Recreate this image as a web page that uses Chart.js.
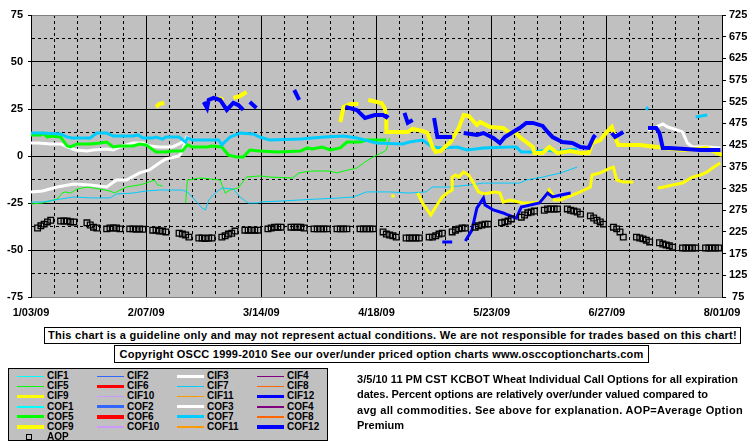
<!DOCTYPE html>
<html>
<head>
<meta charset="utf-8">
<title>KCBOT Wheat Individual Call Options</title>
<script src="https://cdn.jsdelivr.net/npm/chart.js@4.4.1/dist/chart.umd.min.js"></script>
<style>
  body { margin: 0; background: #fff; }
  #wrap { position: relative; width: 755px; height: 446px; overflow: hidden;
          font-family: "Liberation Sans", Arial, sans-serif; font-weight: bold; color: #000; }
  #chart { position: absolute; left: 0; top: 0; }
  .box { position: absolute; box-sizing: border-box; background: #fff; border: 1px solid #000;
         font-size: 11px; text-align: center; white-space: nowrap; }
  #disc1 { left: 44px; top: 327px; width: 697px; height: 17px; line-height: 15px; }
  #disc2 { left: 114px; top: 345px; width: 535px; height: 18px; line-height: 16px; }
  #legend { position: absolute; box-sizing: border-box; left: 8px; top: 368px; width: 320px; height: 73px;
            background: #c0c0c0; border: 1px solid #000; }
  .item { position: absolute; height: 10px; width: 80px; font-size: 10px; line-height: 10px; white-space: nowrap; }
  .item .ln { position: absolute; left: 0; width: 27px; }
  .item .sq { position: absolute; left: 9px; top: 2px; width: 4px; height: 4px; border: 1px solid #000; }
  .item .tx { position: absolute; left: 30px; top: 0; }
  #info { position: absolute; left: 357px; top: 372px; font-size: 11px; line-height: 15.3px; white-space: nowrap; }
  .fit { display: inline-block; }
</style>
</head>
<body>
<div id="wrap">
  <canvas id="chart" width="755" height="446"></canvas>
  <div class="box" id="disc1"><span class="fit" data-w="689">This chart is a guideline only and may not represent actual conditions. We are not responsible for trades based on this chart!</span></div>
  <div class="box" id="disc2"><span class="fit" data-w="524">Copyright OSCC 1999-2010 See our over/under priced option charts www.osccoptioncharts.com</span></div>
  <div id="legend"></div>
  <div id="info">
    <span class="fit" data-w="381">3/5/10 11 PM CST KCBOT Wheat Individual Call Options for all expiration</span><br>
    <span class="fit" data-w="351">dates. Percent options are relatively over/under valued compared to</span><br>
    <span class="fit" data-w="386">avg all commodities. See above for explanation. AOP=Average Option</span><br>
    <span>Premium</span>
  </div>
</div>
<script>
// x = days after 1/03/09, y = percent over/under (AOP: premium, right axis)
const dateLabels = ['1/03/09', '2/07/09', '3/14/09', '4/18/09', '5/23/09', '6/27/09', '8/01/09'];

const cof7 = [[0,12.2],[3,12.2],[9,11.7],[11,10.1],[12.5,9.6],[18,9.6],[20,12.2],[23,12.2],[25,10.6],[31,10.6],
  [32.5,11.2],[34,9.6],[37,9.6],[38,10.1],[40,9.0],[41,10.1],[45,10.1],[47,7.4],[47.5,9.6],[49,8.5],[57,8.5],
  [58,5.9],[60.5,10.1],[63.5,12.2],[67.5,11.7],[69.5,10.1],[72.5,8.5],[82,9.0],[89,10.1],[95,10.6],[99,9.6],
  [105,6.9],[113,6.4],[115,7.4],[119,8.5],[122,4.8],[125,4.3],[129.5,4.8],[132.5,3.2],[137.5,4.3],[145.5,4.8],
  [147.5,4.8],[149,2.1],[152.5,2.1],[157,3.2],[160,2.1],[163,3.2],[166,3.7],[166.5,null],
  [187,24.5],[187.5,26.1],[188,null],[202,20.7],[205.5,21.8]];

const cif7 = [[0,-24.5],[3.5,-24.5],[9,-22.9],[13,-21.8],[18,-22.3],[24,-22.3],[26,-20.2],[31,-19.7],[35,-18.6],
  [39,-18.1],[46,-18.1],[47.5,-19.1],[49,-21.8],[52,-27.7],[53,-28.7],[54,-23.4],[56,-19.7],[58,-17.0],[61.5,-17.6],
  [63.5,-21.8],[66,-25.0],[69,-25.0],[69.5,-24.5],[76.5,-23.9],[87,-22.9],[94,-22.3],[98,-21.8],[102,-19.1],
  [109,-19.1],[115,-19.7],[120,-19.1],[122,-16.5],[127,-16.5],[133.5,-15.4],[137.5,-14.4],[148.5,-14.4],
  [150.5,-12.8],[155.5,-11.2],[161,-9.0],[166,-5.9]];

const cof5 = [[0,11.2],[3,11.2],[3.5,12.2],[5,10.1],[6,10.6],[9,10.1],[11,5.3],[12,4.8],[14,6.4],[18,6.4],[21,6.9],
  [23,7.4],[25,4.8],[27,5.3],[31,5.3],[33,6.4],[35,5.9],[38,2.1],[41,2.1],[43,2.7],[46,2.7],[47.5,5.9],[49,4.8],
  [53.5,4.8],[55,5.3],[58,4.8],[60,0.5],[62.5,-0.5],[64.5,-0.5],[66.5,3.2],[69.5,2.7],[75,2.1],[82,2.7],[84,4.3],
  [85.5,3.7],[88.5,4.8],[91,3.2],[94,4.3],[96,7.4],[100,7.4],[102,8.5],[108,8.5]];

const cif5 = [[0,-25.5],[3.5,-25.0],[8,-22.9],[9.5,-19.7],[10.5,-19.1],[12,-19.7],[14,-17.6],[17,-16.5],[21,-17.6],
  [24,-18.6],[25.5,-19.7],[26,-19.1],[29,-16.5],[33,-15.4],[35,-14.4],[37.5,-12.8],[38.5,-15.4],[40,-16.0],[41,null],
  [47,-25.0],[47.5,-12.8],[51.5,-11.7],[54.5,-12.2],[57.5,-12.8],[59,-19.7],[60.5,-18.1],[63,-17.0],[65.5,-11.2],
  [69.5,-10.6],[72.5,-11.2],[79.5,-11.7],[81.5,-9.0],[85,-8.0],[91,-8.0],[93,-9.0],[95,-8.0],[99,-6.4],[101.5,-3.2],
  [104,-0.5],[107,2.1],[108,3.2],[109,9.6]];

const cof3 = [[0,6.9],[2,6.9],[6,6.4],[9,6.4],[11,4.8],[13.5,3.2],[17,2.7],[19,3.2],[23,3.7],[25,3.2],[27,4.8],
  [31,6.9],[34,6.9],[36,5.3],[39,4.8],[43,4.8],[45,6.4],[47,8.5],[47.5,10.6],[48,null],
  [187.5,13.8],[190,15.4],[192,17.0],[193.5,15.4],[196.5,13.8],[198,12.8],[199.5,6.9],[201,4.8],[205.5,4.8],[209.5,4.3]];

const cif3 = [[0,-19.1],[3.5,-18.6],[8,-16.5],[13,-14.9],[18,-15.4],[23,-16.5],[26,-12.8],[29,-12.8],[33,-9.0],
  [36,-7.4],[39,-3.7],[41,-1.6],[45,0],[46,2.7],[47.5,10.6]];

const cof9 = [[38,26.1],[39,27.7],[40.5,28.2],[41,null],[57,30.9],[58.5,29.8],[59,null],[61.5,30.9],[63.5,31.9],
  [65.5,34.0],[66,null],[94,18.1],[95,26.1],[97,27.7],[99.5,27.7],[100,null],[102.5,29.8],[106.5,28.2],[107.5,25.5],
  [108,20.7],[108,12.8],[114.5,12.8],[116,14.4],[119,13.3],[120.5,12.2],[122,4.8],[123,2.1],[124.5,2.7],[127.5,7.4],
  [130,14.9],[131.5,21.8],[133,21.3],[135.5,16.5],[136.5,18.1],[139.5,15.4],[143.5,14.9],[145,12.8],[147.5,12.2],
  [148.5,10.1],[152.5,4.8],[153,1.6],[155.5,1.6],[157.5,4.8],[160,1.6],[164,2.7],[167,1.6],[169.5,1.6],[170.5,6.9],
  [173,8.5],[175,12.8],[176.5,15.4],[177.5,10.1],[178.5,5.9],[185,5.9],[190,4.8],[198,3.2],[205.5,4.3],[208.5,1.6],
  [210,0.5]];

const cif9 = [[109.5,-21.3],[110.5,-21.3],[111,null],[117.5,-19.7],[119,-25.0],[121.5,-31.4],[123,-27.1],[125,-21.8],
  [126.5,-19.7],[128,-18.1],[128,-11.2],[129,-10.1],[130,-11.2],[131.5,-8.5],[133,-10.1],[134.5,-14.4],[136,-19.1],
  [137.5,-20.2],[141,-19.1],[142.5,-19.7],[143.5,-24.5],[145.5,-23.4],[149.5,-25.0],[151.5,-25.0],[154.5,-24.5],
  [157,-19.7],[157.5,-18.1],[158.5,-20.7],[159,-23.4],[161,-23.4],[163,-21.8],[167,-19.1],[168,-18.1],[170,-16.5],
  [170.5,-10.1],[173,-9.0],[176,-6.4],[177,-5.9],[178,-12.8],[180,-13.8],[183,-13.8],[184,null],
  [190.5,-16.5],[191,-17.0],[195,-15.4],[198,-14.4],[201,-11.2],[203.5,-10.1],[205.5,-8.5],[207.5,-5.9],[209.5,-3.7]];

const cof12 = [[52.5,28.7],[53.5,25.5],[54,29.8],[55.5,30.9],[57.5,29.8],[59.5,24.5],[61.5,28.2],[63,27.1],[64.5,24.5],
  [65,null],[66.5,28.7],[68.5,25.5],[69,null],[80,35.1],[81.5,29.8],[82,null],[95.5,26.1],[99,24.5],[101.5,20.2],
  [104.5,21.8],[107,21.8],[108,20.7],[108.5,21.8],[109,null],[113.5,22.9],[114.5,17.6],[116,19.1],[117,null],
  [122.5,20.2],[123.5,10.1],[127.5,10.1],[128,10.1],[129,null],[131.5,12.2],[135.5,11.2],[137.5,12.2],[140.5,9.6],
  [142.5,6.9],[144,10.1],[146.5,12.8],[148.5,14.9],[150.5,17.6],[152.5,17.6],[155.5,16.0],[157,12.8],[158.5,10.1],
  [161.5,7.4],[164.5,6.9],[167,4.8],[169.5,4.3],[171,10.1],[171.5,11.2],[172,null],[176.5,12.2],[177.5,10.1],
  [180,12.8],[181,null],[187.5,14.9],[190,14.9],[191,12.2],[192,4.3],[194,4.3],[203.5,3.2],[209.5,3.2]];

const cif12 = [[125,-45.7],[128,-45.7],[129,null],[132,-45.2],[134,-39.4],[135.5,-27.7],[137.5,-22.3],[138,-26.1],
  [140.5,-28.7],[143.5,-30.3],[145,-31.4],[147.5,-33.0],[149,-27.1],[154.5,-25.0],[157,-19.7],[158.5,-21.8],
  [161,-20.7],[164,-19.7]];

// average option premium, one square per trading day
const aop = [[2,234],[3,239],[4,243],[5,248],[6,252],[9,250],[10,250],[11,250],[12,248],[13,248],
  [17,246],[18,241],[19,236],[20,234],[23,232],[24,234],[25,234],[26,234],[27,232],
  [30,232],[31,232],[32,231],[33,232],[34,231],[37,229],[38,229],[39,227],[40,227],[41,225],
  [45,222],[46,220],[47,218],[48,213],[51,211],[52,211],[53,210],[54,211],[55,211],
  [58,213],[59,216],[60,220],[61,222],[62,227],[65,229],[66,229],[67,229],[68,229],[69,229],
  [72,232],[73,234],[74,236],[75,236],[76,236],[79,236],[80,236],[81,236],[82,236],[83,234],
  [86,232],[87,232],[88,232],[89,232],[90,232],[93,232],[94,232],[95,232],[96,232],
  [100,232],[101,232],[102,232],[103,232],[104,232],[107,225],[108,220],[109,218],[110,216],[111,213],
  [114,211],[115,211],[116,211],[117,211],[118,211],[121,213],[122,213],[123,216],[124,220],[125,222],
  [128,225],[129,229],[130,232],[131,234],[132,234],[135,236],[136,239],[137,241],[138,243],[139,243],
  [143,246],[144,248],[145,250],[146,255],[149,259],[150,264],[151,269],[152,271],[153,273],
  [156,275],[157,278],[158,278],[159,278],[160,278],[163,278],[164,275],[165,273],[166,271],[167,266],
  [170,262],[171,257],[172,252],[173,248],[174,243],[177,236],[178,232],[179,225],[180,213],
  [184,213],[185,211],[186,209],[187,206],[188,202],[191,200],[192,197],[193,195],[194,193],[195,190],
  [198,188],[199,188],[200,188],[201,188],[202,188],[205,188],[206,188],[207,188],[208,188],[209,188]];

const seriesNames = ['CIF1','CIF2','CIF3','CIF4','CIF5','CIF6','CIF7','CIF8','CIF9','CIF10','CIF11','CIF12',
  'COF1','COF2','COF3','COF4','COF5','COF6','COF7','COF8','COF9','COF10','COF11','COF12','AOP'];
const seriesData = { CIF3: cif3, CIF5: cif5, CIF7: cif7, CIF9: cif9, CIF12: cif12,
  COF3: cof3, COF5: cof5, COF7: cof7, COF9: cof9, COF12: cof12, AOP: aop };
const seriesColors = ['#00ffff','#3366ff','#ffffff','#800080','#00ff00','#ff0000','#00ccff','#ff6600',
  '#ffff00','#cc99ff','#ff9900','#0000ff',
  '#00ffff','#3366ff','#ffffff','#800080','#00ff00','#ff0000','#00ccff','#ff6600',
  '#ffff00','#cc99ff','#ff9900','#0000ff','#000000'];
const seriesWidths = [1,1,3,1,1,3,1,1,3,1,1,3, 2,3,3,2,3,4,3,2,4,2,2,4, 1];

Chart.defaults.font.family = '"Liberation Sans", Arial, sans-serif';
Chart.defaults.font.size = 11;
Chart.defaults.font.weight = 'bold';
Chart.defaults.color = '#000';

const plotBackground = {
  id: 'plotBackground',
  beforeDraw(chart) {
    const { ctx, chartArea: a } = chart;
    ctx.save();
    ctx.fillStyle = '#c0c0c0';
    ctx.fillRect(a.left, a.top, a.right - a.left, a.bottom - a.top);
    ctx.restore();
  }
};

const datasets = seriesNames.map((name, i) => {
  const isAop = name === 'AOP';
  return {
    label: name,
    data: (seriesData[name] || []).map(p => ({ x: p[0], y: p[1] })),
    yAxisID: isAop ? 'y2' : 'y',
    borderColor: seriesColors[i],
    borderWidth: seriesWidths[i],
    showLine: !isAop,
    spanGaps: false,
    tension: 0,
    pointRadius: isAop ? 4 : 0,
    pointStyle: 'rect',
    pointBackgroundColor: 'rgba(0,0,0,0)',
    pointBorderColor: '#000',
    pointBorderWidth: 1.3,
    order: -i
  };
});

new Chart(document.getElementById('chart'), {
  type: 'line',
  data: { datasets },
  options: {
    responsive: false,
    animation: false,
    events: [],
    layout: { padding: { top: 15, bottom: 124, left: 0, right: 0 } },
    plugins: { legend: { display: false }, tooltip: { enabled: false } },
    scales: {
      x: {
        type: 'linear', min: 0, max: 210,
        afterFit: s => { s.height = 25; },
        ticks: { stepSize: 7, autoSkip: false, maxRotation: 0, padding: 9,
          callback: v => (v % 35 === 0 ? dateLabels[v / 35] : '') },
        grid: { color: '#000', lineWidth: 1, drawTicks: false },
        border: { color: '#808080', dash: c => (c.type === 'tick' && c.tick.value % 35 !== 0 ? [3, 3] : []) }
      },
      y: {
        min: -75, max: 75,
        afterFit: s => { s.width = 31; },
        ticks: { stepSize: 12.5, autoSkip: false, padding: 5, callback: v => (v % 25 === 0 ? v : '') },
        grid: {
          color: c => (c.tick && Math.abs(c.tick.value) === 75 ? '#808080' : '#000'),
          tickLength: 3,
          tickColor: c => (c.tick && c.tick.value % 25 === 0 ? '#000' : 'rgba(0,0,0,0)')
        },
        border: { color: '#000', dash: c => (c.type === 'tick' && c.tick.value % 25 !== 0 ? [3, 3] : []) }
      },
      y2: {
        position: 'right', min: 75, max: 725,
        afterFit: s => { s.width = 33; },
        ticks: { stepSize: 50, autoSkip: false, padding: 3, crossAlign: 'center' },
        grid: { drawOnChartArea: false, tickLength: 4, tickColor: '#000' },
        border: { color: '#000' }
      }
    }
  },
  plugins: [plotBackground]
});

// legend box, four entries per row in series order
const legendEl = document.getElementById('legend');
seriesNames.forEach((name, i) => {
  const item = document.createElement('div');
  item.className = 'item';
  item.style.left = (8 + (i % 4) * 80) + 'px';
  item.style.top = (2 + Math.floor(i / 4) * 10.2) + 'px';
  if (name === 'AOP') {
    item.innerHTML = '<span class="sq"></span>';
  } else {
    const w = seriesWidths[i];
    item.innerHTML = '<span class="ln" style="top:' + (5 - w / 2) + 'px;height:' + w + 'px;background:' + seriesColors[i] + '"></span>';
  }
  item.innerHTML += '<span class="tx">' + name + '</span>';
  legendEl.appendChild(item);
});

document.querySelectorAll('.fit').forEach(el => {
  const target = parseFloat(el.dataset.w);
  const w = el.getBoundingClientRect().width;
  el.style.letterSpacing = ((target - w) / el.textContent.length) + 'px';
});
</script>
</body>
</html>
